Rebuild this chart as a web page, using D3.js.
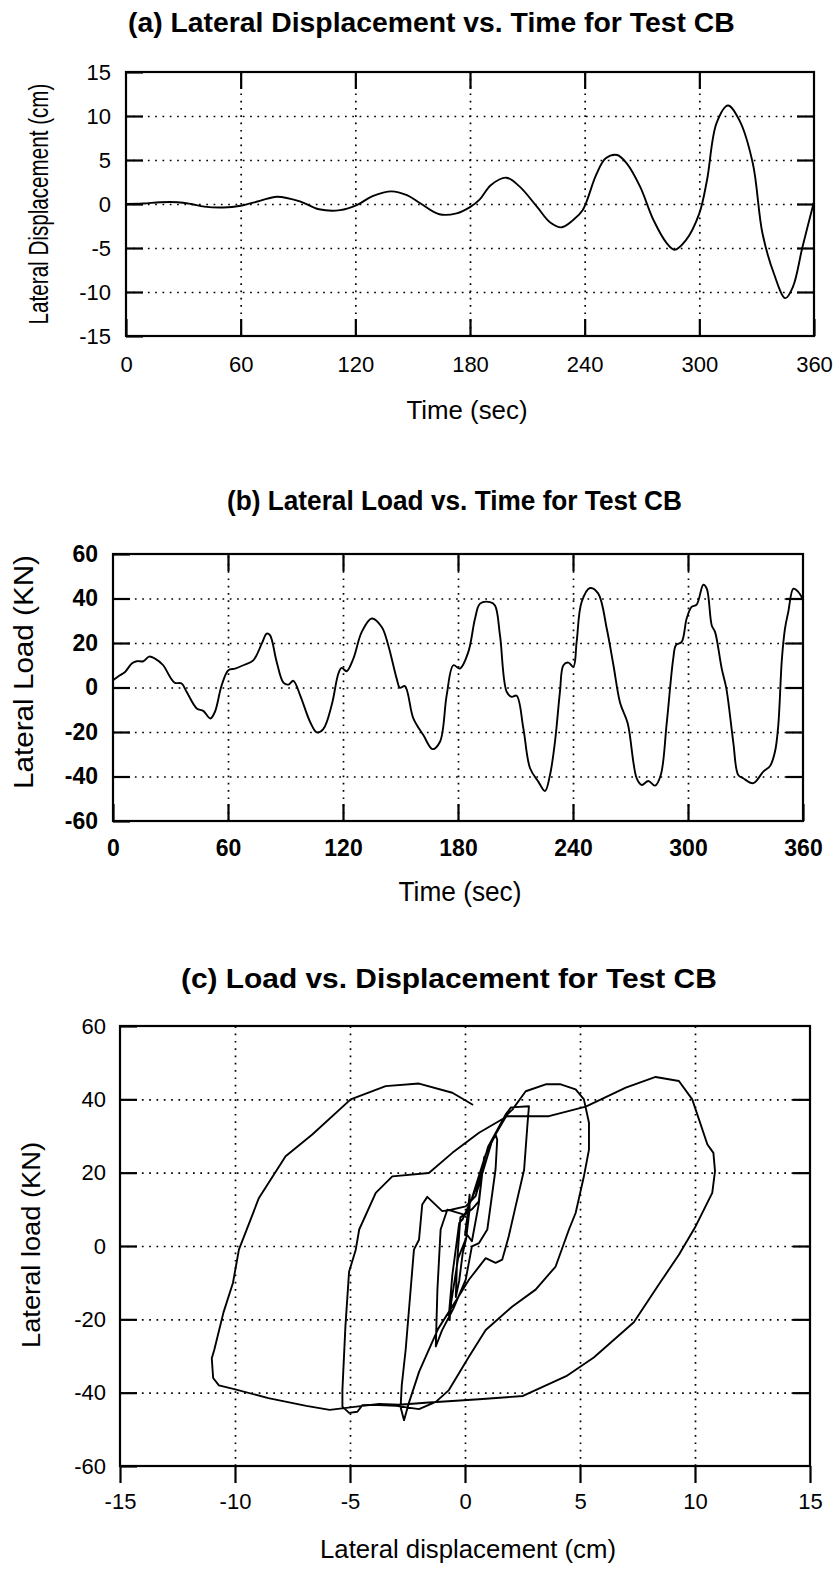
<!DOCTYPE html>
<html>
<head>
<meta charset="utf-8">
<script src="https://cdn.jsdelivr.net/npm/d3@7"></script>
<style>
  html, body { margin: 0; padding: 0; background: #fff; }
  svg { display: block; }
</style>
</head>
<body>
<svg id="fig" width="838" height="1578"></svg>
<script>
// ---- (a) lateral displacement history ----
const timeA = [0, 9, 18, 27, 34, 41, 51, 60, 70, 79, 91, 101, 112, 121, 129, 139, 147, 154, 164, 173,
  180, 185, 191, 199, 206, 215, 222, 228, 234, 239, 246, 251, 257, 262, 269, 276, 283, 287, 293, 300,
  304, 309, 315, 321, 328, 333, 339, 345, 349, 354, 360];
const dispA = [0, 0.05, 0.2, 0.2, 0.0, -0.3, -0.4, -0.2, 0.35, 0.83, 0.3, -0.6, -0.7, -0.1, 0.9, 1.44, 1.0, 0.08, -1.17, -1.06,
  -0.35, 0.5, 2.16, 2.99, 1.97, -0.3, -2.1, -2.65, -1.82, -0.68, 3.3, 5.19, 5.57, 4.62, 1.97, -1.82, -4.47, -5.2, -4.1, -1.06,
  2.7, 9.2, 11.2, 9.5, 4.6, -3.3, -7.9, -10.7, -9.4, -4.85, 0.26];

// ---- (b) lateral load history ----
const timeB = [0, 3.6, 6.3, 9.8, 12.4, 15.8, 18.9, 21.9, 26.2, 29.7, 32.3, 35.8, 38.4, 43.7, 47.1, 50.8, 53.2, 56.7, 60.2, 63.7,
  68, 73.2, 77.6, 80.2, 81.9, 85.4, 88.9, 91.5, 94.1, 97.6, 102.8, 106.3, 109.7, 114.1, 117.6, 119.3, 121.9, 125.4, 129.8, 135,
  140.2, 143.6, 148, 149.7, 152.3, 156.7, 161.9, 166.7, 170.6, 174.1, 177.6, 181, 185.4, 188.9, 191.5, 196.7, 199.3, 201.9, 205.4, 208,
  210.6, 214.1, 217.6, 221.9, 225.4, 228, 230.6, 233.2, 235, 237.6, 240.2, 241.9, 244.5, 248.9, 253.2, 257.6, 261.1, 264.6, 268.5, 273.3,
  275.9, 279.3, 282.8, 285.8, 288.9, 292.3, 293.7, 296.7, 299.3, 301.9, 304.5, 308, 309.8, 312.4, 314.1, 317.6, 320, 323.6, 326.2, 328.8,
  334, 339.3, 342.8, 345.4, 347.1, 349, 350.6, 352.3, 355, 357.6, 359.3];
const loadB = [3.3, 5.5, 7, 10.8, 11.8, 11.8, 13.9, 13, 10, 4.8, 2.1, 1.8, -1.9, -9.4, -10.5, -13.9, -10.9, 1, 7.8, 8.5,
  10, 12.2, 19.7, 24.2, 23.5, 11.5, 2.2, 1.3, 3, -3.4, -15.4, -20.2, -18.7, -7.9, 6.3, 8.8, 7.3, 13, 25, 31,
  27.2, 19, 4, -0.1, 0.6, -13.9, -21.4, -27.7, -24.4, -3.4, 10, 8.5, 16, 31, 37.7, 38.4, 36.9, 23.5, -1.9, -4.2,
  -3.7, -18.4, -36.3, -42.3, -46.5, -39.3, -24.4, -1.9, 10, 11.2, 9.3, 20.5, 38.4, 44.7, 42.2, 26.5, 10, -7, -16, -41,
  -43.8, -42, -44.1, -39.3, -16, 13, 19, 20.5, 31, 36.2, 37.2, 46.2, 44.4, 27.9, 25, 8.5, -0.4, -24.4, -39.3, -40.8,
  -43, -37.8, -35.3, -28.8, -17, 13, 26.5, 33.9, 44.4, 42.9, 40.6];

// ---- (c) load against displacement, in time order ----
const dispC = [0.0, 0.1, 0.15, 0.2, 0.2, 0.05, -0.1, -0.25, -0.4, -0.35, -0.2, 0.3, 0.6, 0.83, 0.6, 0.3, 0.1, -0.3, -0.6, -0.67,
  -0.7, -0.55, -0.25, -0.1,
  0.3, 0.9, 1.33, 1.4, 1.33, 0.97, 0.61, 0.3, 0.03, -0.5, -1.0, -1.27, -1.2, -1.06, -0.77, 0.0, 0.5,
  1.0, 1.77, 2.0, 2.78, 2.71, 2.57, 2.2, 1.9, 1.62, 1.33, 0.9, 0.17, -0.3, -1.17, -1.99, -2.45, -2.65, -2.8, -2.75,
  -2.58, -2.22, -2.0, -1.86, -1.64, -0.99, -0.6, 0.03, 0.46,
  1.19, 1.84, 2.06, 2.64, 3.51, 4.16, 4.81, 5.17, 5.39, 5.39, 5.17, 4.81, 4.52, 3.94, 3.07, 2.06, 0.9, 0.17, -0.7, -1.27,
  -2.0, -3.0, -4.0, -4.46, -4.68, -5.04, -5.33, -5.33, -5.2, -5.04, -4.75, -4.6, -3.88, -3.16, -1.57,
  -0.55, 0.61, 1.84, 3.65, 5.25, 6.99, 8.29, 9.3, 9.88, 10.54, 10.8, 10.87, 10.75, 10.03, 9.3, 8.47, 7.34, 5.6, 4.4, 2.52,
  0.61, -1.57, -2.87, -3.74, -4.45, -5.88, -6.9, -8.55, -9.99, -10.7, -10.95, -11.01, -10.9, -10.5, -10.09, -9.83, -8.96, -7.8, -6.64, -4.97,
  -3.45, -2.0, -0.55, 0.32];
const loadC = [3, 8, 11, 14, 10, 2, -2, -9.4, -13.9, -5, 7.8, 10, 12.2, 24.2, 11.5, 1.3, 3, -3.4, -15.4, -20.2,
  -18.7, -7.9, 6.3, 7.3,
  13, 25, 30.4, 29, 21, 4.5, 0.8, -0.1, -9.2, -17, -23, -27.4, -12, 4.5, 9.9, 8.5, 16,
  27, 35.9, 37.8, 38.1, 32.7, 20.8, 10.8, 2.6, -3.7, -4.6, -3.3, -9.2, -14, -22.6, -34.2, -43, -47.5, -44, -38,
  -28.3, -1, 1.7, 11.3, 13.4, 9.5, 9.9, 10.8, 13.6,
  29, 35.9, 37.2, 42.2, 44.1, 44.1, 42.7, 40, 33.6, 26.3, 19, 9, 4.5, -5.6, -11.9, -16.5, -22.9, -30.2, -39.3, -42.5,
  -44.5, -43.6, -43.3, -43.4, -45.2, -45.5, -43.8, -39.3, -22, -7, -1, 4.5, 14.5, 19, 19.9,
  25.4, 30.9, 35.4, 35.4, 38, 43.2, 46.1, 45, 40, 27.7, 25.4, 20.4, 14.5, 5.4, -2.4, -10.1, -20.8, -30.4, -35.5, -40.9,
  -41.8, -42.7, -43.3, -43.1, -43.6, -44.7, -43.6, -41.5, -39.1, -38, -36, -30.6, -28.3, -18.1, -10.1, -1, 13.1, 24.5, 30.4, 40,
  43.6, 44.3, 41.8, 38.6];

// ---- tick values ----
const timeTicks = [0, 60, 120, 180, 240, 300, 360];
const dispTicks = [-15, -10, -5, 0, 5, 10, 15];
const loadTicks = [-60, -40, -20, 0, 20, 40, 60];

const svg = d3.select('#fig');
svg.append('rect').attr('width', 838).attr('height', 1578).attr('fill', '#fff');

const FONT = '"Liberation Sans", Arial, Helvetica, sans-serif';
const TICK = 17;
const plain = d => String(d);   // ASCII hyphen for negatives

// Places a text at (x, y), squeezed along its baseline to a given length.
function placeText(parent, o) {
  const t = parent.append('text')
    .attr('font-family', FONT).attr('font-size', o.size)
    .attr('font-weight', o.bold ? 'bold' : 'normal')
    .attr('text-anchor', o.anchor || 'start').attr('dy', o.dy || null)
    .attr('fill', '#000').text(o.text);
  const k = o.len / t.node().getComputedTextLength();
  t.attr('transform', `translate(${o.x},${o.y})${o.rotate ? ' rotate(-90)' : ''} scale(${k},1)`);
  return t;
}

function styleAxis(sel, size, weight) {
  sel.select('.domain').remove();
  sel.selectAll('.tick line').attr('stroke', '#000').attr('stroke-width', 2.2);
  sel.selectAll('.tick text').attr('fill', '#000').attr('font-size', size)
    .attr('font-family', FONT).attr('font-weight', weight || 'normal');
}

function drawPanel(p) {
  const x = d3.scaleLinear().domain(p.xDomain).range([p.left, p.right]);
  const y = d3.scaleLinear().domain(p.yDomain).range([p.bottom, p.top]);
  const w = p.right - p.left, h = p.bottom - p.top;
  const g = svg.append('g');

  // dotted grid at the interior tick positions
  const gx = g.append('g').attr('transform', `translate(0,${p.bottom})`)
    .call(d3.axisBottom(x).tickValues(p.xTicks.slice(1, -1)).tickSize(-h).tickFormat(''));
  const gy = g.append('g').attr('transform', `translate(${p.left},0)`)
    .call(d3.axisLeft(y).tickValues(p.yTicks.slice(1, -1)).tickSize(-w).tickFormat(''));
  [gx, gy].forEach(s => {
    s.select('.domain').remove();
    s.selectAll('line').attr('stroke', '#000').attr('stroke-width', 1.7).attr('stroke-dasharray', '1.7,5.6');
  });

  // data trace
  g.append('path')
    .datum(d3.zip(p.xs, p.ys))
    .attr('fill', 'none').attr('stroke', '#000').attr('stroke-width', 1.9)
    .attr('stroke-linejoin', 'round').attr('stroke-linecap', 'round')
    .attr('d', d3.line().x(d => x(d[0])).y(d => y(d[1])).curve(p.curve));

  // axes: bottom with labels, left with labels, plus unlabeled ticks on the other sides
  const ab = g.append('g').attr('transform', `translate(0,${p.bottom})`)
    .call(d3.axisBottom(x).tickValues(p.xTicks).tickFormat(plain)
      .tickSizeInner(p.xOut ? TICK : -TICK).tickSizeOuter(0).tickPadding(p.xPad));
  styleAxis(ab, p.tickFont, p.tickWeight);
  const al = g.append('g').attr('transform', `translate(${p.left},0)`)
    .call(d3.axisLeft(y).tickValues(p.yTicks).tickFormat(plain)
      .tickSizeInner(-TICK).tickSizeOuter(0).tickPadding(p.yPad));
  styleAxis(al, p.tickFont, p.tickWeight);
  const ar = g.append('g').attr('transform', `translate(${p.right},0)`)
    .call(d3.axisRight(y).tickValues(p.yTicks.slice(1, -1)).tickSizeInner(-TICK).tickSizeOuter(0).tickFormat(''));
  styleAxis(ar, p.tickFont);
  if (p.topTicks) {
    const at = g.append('g').attr('transform', `translate(0,${p.top})`)
      .call(d3.axisTop(x).tickValues(p.xTicks.slice(1, -1)).tickSizeInner(-TICK).tickSizeOuter(0).tickFormat(''));
    styleAxis(at, p.tickFont);
  }

  // frame
  g.append('rect').attr('x', p.left).attr('y', p.top).attr('width', w).attr('height', h)
    .attr('fill', 'none').attr('stroke', '#000').attr('stroke-width', 2.2);

  // panel title and axis titles
  placeText(g, Object.assign({ bold: true }, p.title));
  placeText(g, Object.assign({ anchor: 'middle' }, p.xlab));
  placeText(g, Object.assign({ anchor: 'middle', dy: '0.35em', rotate: true }, p.ylab));
}

drawPanel({
  left: 126, right: 814, top: 72, bottom: 336,
  xDomain: [0, 360], yDomain: [-15, 15], xTicks: timeTicks, yTicks: dispTicks,
  xs: timeA, ys: dispA, curve: d3.curveCatmullRom.alpha(0.5),
  xOut: false, topTicks: true, xPad: 20, yPad: 15, tickFont: 22,
  title: { text: '(a) Lateral Displacement vs. Time for Test CB', x: 128, y: 32, len: 607, size: 28 },
  xlab: { text: 'Time (sec)', x: 467, y: 419, len: 121, size: 26 },
  ylab: { text: 'Lateral Displacement (cm)', x: 39, y: 204, len: 241, size: 27 }
});

drawPanel({
  left: 113, right: 803, top: 554, bottom: 821,
  xDomain: [0, 360], yDomain: [-60, 60], xTicks: timeTicks, yTicks: loadTicks,
  xs: timeB, ys: loadB, curve: d3.curveCatmullRom.alpha(0.5),
  xOut: false, topTicks: true, xPad: 19, yPad: 15, tickFont: 23, tickWeight: 'bold',
  title: { text: '(b) Lateral Load vs. Time for Test CB', x: 227, y: 510, len: 455, size: 27 },
  xlab: { text: 'Time (sec)', x: 460, y: 901, len: 123, size: 27 },
  ylab: { text: 'Lateral Load (KN)', x: 23, y: 672, len: 234, size: 28 }
});

drawPanel({
  left: 120, right: 810, top: 1026, bottom: 1466,
  xDomain: [-15, 15], yDomain: [-60, 60], xTicks: dispTicks, yTicks: loadTicks,
  xs: dispC, ys: loadC, curve: d3.curveLinear,
  xOut: true, topTicks: false, xPad: 10, yPad: 14, tickFont: 22,
  title: { text: '(c) Load vs. Displacement for Test CB', x: 181, y: 988, len: 536, size: 27 },
  xlab: { text: 'Lateral displacement (cm)', x: 468, y: 1558, len: 296, size: 26 },
  ylab: { text: 'Lateral load (KN)', x: 31, y: 1245, len: 206, size: 26 }
});
</script>
</body>
</html>
